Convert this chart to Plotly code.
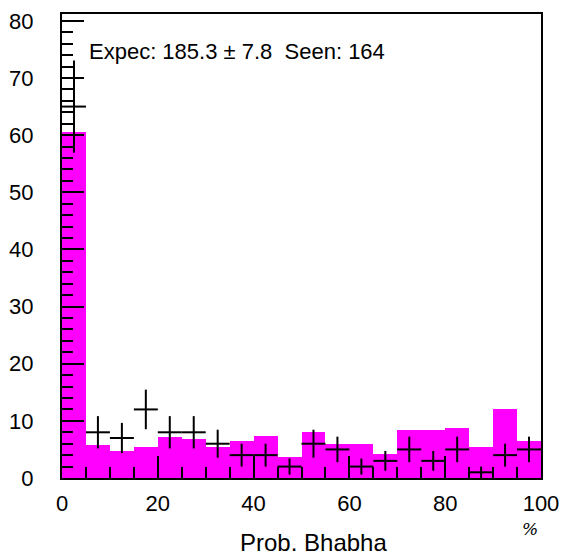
import numpy as np
import plotly.graph_objects as go

bin_edges = list(range(0, 105, 5))
bin_centers = [2.5 + 5 * i for i in range(20)]
expected = [60.5, 5.8, 4.7, 5.4, 7.2, 6.8, 5.5, 6.4, 7.3, 3.6,
            8.1, 5.9, 5.9, 4.2, 8.4, 8.4, 8.7, 5.4, 12.0, 6.4]
seen = [65, 8, 7, 12, 8, 8, 6, 4, 4, 2,
        6, 5, 2, 3, 5, 3, 5, 1, 4, 5]
x_ticks = [0, 20, 40, 60, 80, 100]
y_ticks = [0, 10, 20, 30, 40, 50, 60, 70, 80]
info_text = "Expec: 185.3 \u00b1 7.8  Seen: 164"
x_title = "Prob. Bhabha"
x_unit = "%"

FONT = "Liberation Sans, Arial, sans-serif"

fig = go.Figure()
fig.add_trace(go.Bar(
    x=bin_centers, y=expected, width=5,
    marker=dict(color="#ff00ff", line=dict(width=0)),
    showlegend=False, hoverinfo="skip"))
fig.add_trace(go.Scatter(
    x=bin_centers, y=seen, mode="markers",
    marker=dict(size=1, color="black"),
    error_y=dict(type="data", array=list(np.sqrt(seen)), color="black", thickness=2, width=0),
    error_x=dict(type="constant", value=2.5, color="black", thickness=2, width=0),
    showlegend=False))

fig.update_layout(
    width=568, height=558,
    margin=dict(l=62, r=22, t=9, b=80),
    paper_bgcolor="white", plot_bgcolor="white",
    bargap=0,
    font=dict(family=FONT, color="black"),
    annotations=[
        dict(text=info_text, x=5.3, y=74.6, xref="x", yref="y",
             xanchor="left", yanchor="middle", showarrow=False,
             font=dict(size=22, family=FONT, color="black")),
        dict(text=x_title, x=(316 - 62) / 484, y=(478 - 543) / 469,
             xref="paper", yref="paper", xanchor="center", yanchor="middle",
             showarrow=False, font=dict(size=24, family=FONT, color="black")),
        dict(text="<i>" + x_unit + "</i>", x=(535 - 62) / 484, y=(478 - 530) / 469,
             xref="paper", yref="paper", xanchor="center", yanchor="middle",
             showarrow=False, font=dict(size=17, family="DejaVu Serif, serif", color="black")),
    ],
)
fig.update_xaxes(
    range=[0, 100], tickvals=x_ticks, ticktext=[str(v) for v in x_ticks],
    ticks="inside", ticklen=22, tickwidth=2, tickcolor="black",
    minor=dict(dtick=5, tick0=0, ticks="inside", ticklen=11, tickwidth=2, tickcolor="black"),
    showline=True, linecolor="black", linewidth=2, mirror=True,
    showgrid=False, zeroline=False,
    tickfont=dict(size=22, family=FONT, color="black"),
    ticklabelstandoff=5)
fig.update_yaxes(
    range=[0, 81.2], tickvals=y_ticks, ticktext=[str(v) for v in y_ticks],
    ticks="inside", ticklen=22, tickwidth=2, tickcolor="black",
    minor=dict(dtick=2, tick0=0, ticks="inside", ticklen=11, tickwidth=2, tickcolor="black"),
    showline=True, linecolor="black", linewidth=2, mirror=True,
    showgrid=False, zeroline=False,
    tickfont=dict(size=22, family=FONT, color="black"),
    ticklabelstandoff=22)

fig.write_html("out.html")
